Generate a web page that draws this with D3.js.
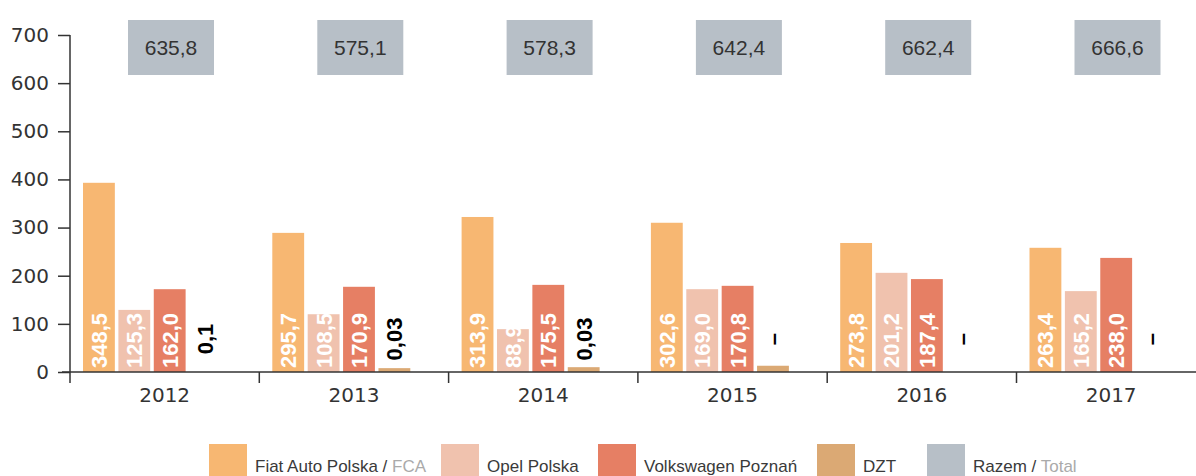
<!DOCTYPE html>
<html>
<head>
<meta charset="utf-8">
<script src="https://cdn.jsdelivr.net/npm/d3@7"></script>
<style>
  body { margin: 0; background: #fff; }
  svg { display: block; }
</style>
</head>
<body>
<div id="chart"></div>
<script>
// values (bar heights) and the printed labels
const years = ['2012', '2013', '2014', '2015', '2016', '2017'];
const seriesNames = ['Fiat Auto Polska', 'Opel Polska', 'Volkswagen Poznań', 'DZT'];
const fiatValues = [393, 289, 322, 310, 268, 258];
const opelValues = [129, 120, 89, 172, 206, 168];
const vwValues = [172, 177, 181, 179, 193, 237];
const dztValues = [0, 8, 10, 13, 0, 0];
const fiatLabels = ['348,5', '295,7', '313,9', '302,6', '273,8', '263,4'];
const opelLabels = ['125,3', '108,5', '88,9', '169,0', '201,2', '165,2'];
const vwLabels = ['162,0', '170,9', '175,5', '170,8', '187,4', '238,0'];
const dztLabels = ['0,1', '0,03', '0,03', '–', '–', '–'];
const totalLabels = ['635,8', '575,1', '578,3', '642,4', '662,4', '666,6'];
const yTicks = [0, 100, 200, 300, 400, 500, 600, 700];

const colors = ['#f7b772', '#f0c2ae', '#e67f64', '#dba974'];
const totalColor = '#b7bfc7';

const w = 1196;
const h = 476;
const margin = { top: 35, right: 0, bottom: 104, left: 70 };

const svg = d3.select('#chart')
  .append('svg')
  .attr('width', w)
  .attr('height', h)

const xScale = d3.scaleBand()
  .domain(years)
  .range([margin.left, margin.left + 189.3 * 6])

const xInner = d3.scaleBand()
  .domain(seriesNames)
  .range([13, 151])
  .paddingInner(0.1)

const yScale = d3.scaleLinear()
  .domain([0, 700])
  .range([h - margin.bottom, margin.top])

const allValues = [fiatValues, opelValues, vwValues, dztValues];
const allLabels = [fiatLabels, opelLabels, vwLabels, dztLabels];

const rows = [];
years.forEach((y, i) => {
  seriesNames.forEach((s, j) => {
    rows.push({ year: y, series: s, idx: j, value: allValues[j][i], label: allLabels[j][i] })
  })
})

// bars
svg.selectAll('rect.bar')
  .data(rows)
  .enter()
  .append('rect')
  .attr('class', 'bar')
  .attr('x', d => xScale(d.year) + xInner(d.series))
  .attr('y', d => yScale(d.value))
  .attr('width', xInner.bandwidth())
  .attr('height', d => yScale(0) - yScale(d.value))
  .attr('fill', d => colors[d.idx])

// value labels, rotated
svg.selectAll('text.val')
  .data(rows)
  .enter()
  .append('text')
  .attr('class', 'val')
  .attr('transform', d => {
    const cx = xScale(d.year) + xInner(d.series) + xInner.bandwidth() / 2;
    const cy = d.idx === 3 ? 339 : yScale(0) - 4;
    return 'translate(' + cx + ',' + cy + ') rotate(-90)';
  })
  .attr('dy', '0.36em')
  .attr('text-anchor', d => d.idx === 3 ? 'middle' : 'start')
  .attr('font-family', '"Liberation Sans Narrow", "Liberation Sans", sans-serif')
  .attr('font-weight', 'bold')
  .attr('font-size', 22)
  .attr('fill', d => d.idx === 3 ? '#000' : '#fff')
  .text(d => d.label)

// total boxes
const boxX = 58, boxW = 86;
svg.selectAll('rect.total')
  .data(years)
  .enter()
  .append('rect')
  .attr('class', 'total')
  .attr('x', d => xScale(d) + boxX)
  .attr('y', 20)
  .attr('width', boxW)
  .attr('height', 55)
  .attr('fill', totalColor)

svg.selectAll('text.total')
  .data(years)
  .enter()
  .append('text')
  .attr('class', 'total')
  .attr('x', d => xScale(d) + boxX + boxW / 2)
  .attr('y', 47.5)
  .attr('dy', '0.36em')
  .attr('text-anchor', 'middle')
  .attr('font-family', '"Liberation Sans", sans-serif')
  .attr('font-size', 21)
  .attr('fill', '#333')
  .text((d, i) => totalLabels[i])

// y axis
const yAxis = d3.axisLeft(yScale).tickValues(yTicks).tickSize(12).tickPadding(9).tickSizeOuter(0)
const gy = svg.append('g')
  .attr('transform', 'translate(' + margin.left + ',0)')
  .call(yAxis)
gy.select('.domain').remove()
gy.append('line')
  .attr('x1', 0).attr('x2', 0)
  .attr('y1', yScale(700)).attr('y2', yScale(0) + 11)
  .attr('stroke', '#333').attr('stroke-width', 1.5)
gy.selectAll('.tick line').attr('stroke', '#333').attr('stroke-width', 1.5)
gy.selectAll('.tick text')
  .attr('font-family', '"DejaVu Sans", sans-serif')
  .attr('font-size', 20)
  .attr('fill', '#333')

// x axis
const xAxis = d3.axisBottom(xScale).tickSize(0).tickPadding(16)
const gx = svg.append('g')
  .attr('transform', 'translate(0,' + yScale(0) + ')')
  .call(xAxis)
gx.select('.domain').remove()
gx.append('line')
  .attr('x1', 62).attr('x2', w)
  .attr('stroke', '#333').attr('stroke-width', 1.5)
gx.selectAll('line.sep')
  .data(years.slice(1))
  .enter()
  .append('line')
  .attr('class', 'sep')
  .attr('x1', d => xScale(d)).attr('x2', d => xScale(d))
  .attr('y1', 0).attr('y2', 11)
  .attr('stroke', '#333').attr('stroke-width', 1.5)
gx.selectAll('.tick text')
  .attr('font-family', '"DejaVu Sans", sans-serif')
  .attr('font-size', 20)
  .attr('fill', '#333')

// legend
const legendItems = [
  { name: 'Fiat Auto Polska', extra: 'FCA', color: colors[0], x: 209 },
  { name: 'Opel Polska', extra: null, color: colors[1], x: 441 },
  { name: 'Volkswagen Poznań', extra: null, color: colors[2], x: 598 },
  { name: 'DZT', extra: null, color: colors[3], x: 817 },
  { name: 'Razem', extra: 'Total', color: totalColor, x: 927 }
]
const lg = svg.selectAll('g.legend')
  .data(legendItems)
  .enter()
  .append('g')
  .attr('class', 'legend')
  .attr('transform', d => 'translate(' + d.x + ',444)')
lg.append('rect')
  .attr('width', 38)
  .attr('height', 40)
  .attr('fill', d => d.color)
const lt = lg.append('text')
  .attr('x', 46)
  .attr('y', 28)
  .attr('font-family', '"Liberation Sans Narrow", "Liberation Sans", sans-serif')
  .attr('font-size', 17)
  .attr('fill', '#3a3a3a')
lt.append('tspan').text(d => d.name)
lt.filter(d => d.extra).append('tspan').text(' / ')
lt.filter(d => d.extra).append('tspan').attr('fill', '#aaa').text(d => d.extra)
</script>
</body>
</html>
